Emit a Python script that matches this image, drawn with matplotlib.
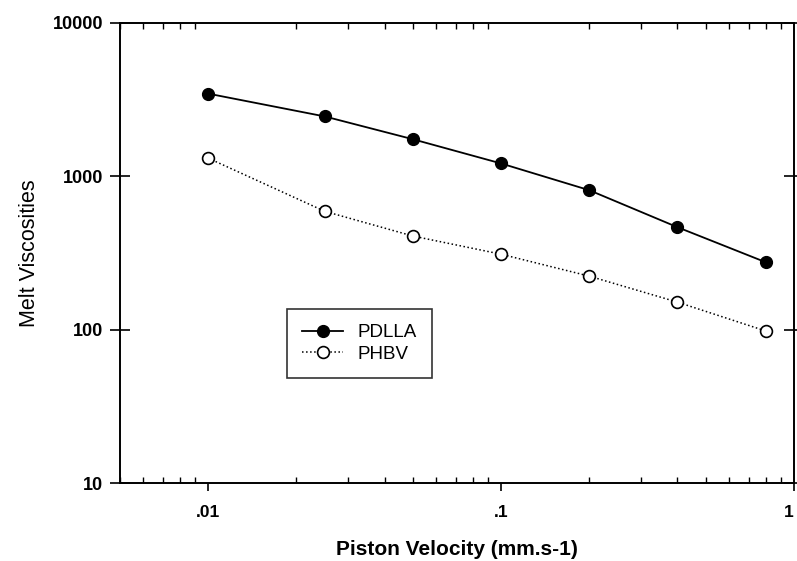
import matplotlib
matplotlib.use("Agg")
import matplotlib.pyplot as plt
from matplotlib.ticker import FixedLocator, NullFormatter, LogLocator

plt.rcParams['font.family'] = ['Liberation Sans', 'DejaVu Sans']

velocity = [0.01, 0.025, 0.05, 0.1, 0.2, 0.4, 0.8]
pdlla = [3450, 2450, 1740, 1210, 810, 465, 275]
phbv = [1310, 590, 407, 310, 223, 151, 98]

x_ticks = [0.01, 0.1, 1]
x_ticklabels = ['.01', '.1', '1']
y_ticks = [10, 100, 1000, 10000]
y_ticklabels = ['10', '100', '1000', '10000']

fig = plt.figure(figsize=(7.97, 5.61), dpi=100)
ax = fig.add_axes([0.1506, 0.139, 0.8456, 0.8205])

ax.plot(velocity, pdlla, '-', color='black', lw=1.3, marker='o', ms=8.5,
        mfc='black', mec='black', label='PDLLA')
ax.plot(velocity, phbv, ':', color='black', lw=1.1, marker='o', ms=8.5,
        mfc='white', mec='black', mew=1.2, label='PHBV')

ax.set_xscale('log')
ax.set_yscale('log')
ax.set_xlim(0.005, 1)
ax.set_ylim(10, 10000)

ax.set_xticks(x_ticks)
ax.set_xticklabels(x_ticklabels, fontsize=12.5, fontweight='bold')
ax.get_xticklabels()[-1].set_horizontalalignment('right')
ax.set_yticks(y_ticks)
ax.set_yticklabels(y_ticklabels, fontsize=13, fontweight='bold')
ax.xaxis.set_minor_locator(LogLocator(base=10, subs=[2, 3, 4, 5, 6, 7, 8, 9]))
ax.xaxis.set_minor_formatter(NullFormatter())
ax.yaxis.set_minor_locator(FixedLocator([]))

ax.tick_params(axis='x', which='major', direction='out', length=6, width=1.2,
               top=False, pad=10)
ax.tick_params(axis='x', which='minor', direction='in', length=4, width=1.0,
               top=True)
ax.tick_params(axis='y', which='major', direction='inout', length=14, width=1.2,
               right=True, pad=5)

for s in ax.spines.values():
    s.set_linewidth(1.4)

ax.set_xlabel('Piston Velocity (mm.s-1)', fontsize=15, fontweight='bold', labelpad=14)
ax.set_ylabel('Melt Viscosities', fontsize=15.5, labelpad=9)

leg = ax.legend(loc='upper left', bbox_to_anchor=(0.248, 0.378), fontsize=13.5,
                frameon=True, fancybox=False, edgecolor='black',
                handlelength=2.2, borderpad=0.8, labelspacing=0.25,
                handletextpad=0.75, borderaxespad=0)
leg.get_frame().set_linewidth(1.2)

fig.savefig('out.png', dpi=100)
